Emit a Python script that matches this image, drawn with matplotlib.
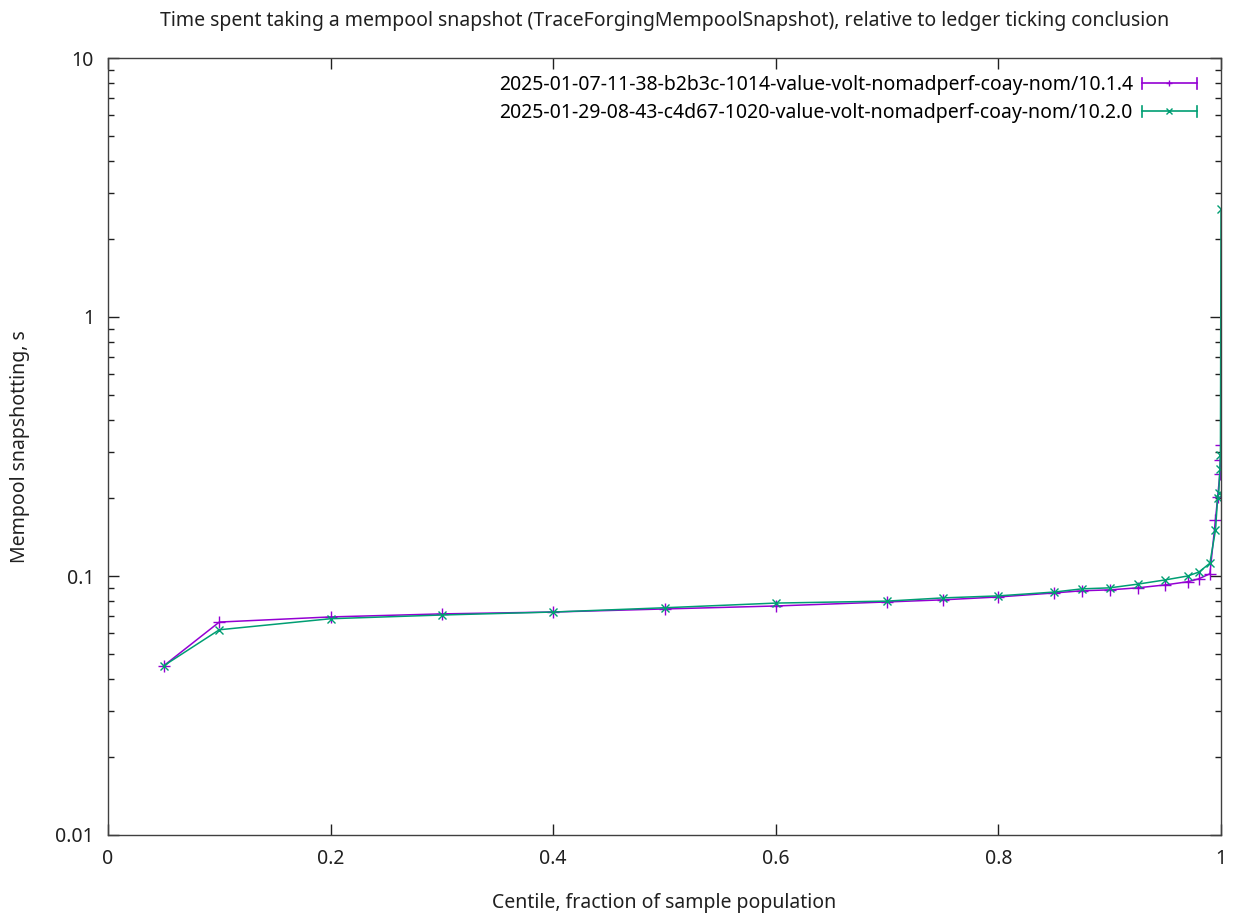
import numpy as np
import matplotlib
matplotlib.use("Agg")
import matplotlib.pyplot as plt
from matplotlib.lines import Line2D
from matplotlib.legend_handler import HandlerBase
from matplotlib.ticker import LogLocator, FixedLocator, NullFormatter

plt.rcParams['font.family'] = ['Noto Sans', 'DejaVu Sans']

# centiles and measured times (s)
centiles_a = [0.05, 0.1, 0.2, 0.3, 0.4, 0.5, 0.6, 0.7, 0.75, 0.8, 0.85, 0.875,
              0.9, 0.925, 0.95, 0.97, 0.98, 0.99, 0.995, 0.997, 0.999, 0.9995, 1.0]
times_a = [0.045, 0.0664, 0.0695, 0.0714, 0.0726, 0.0746, 0.0766, 0.0794, 0.0809,
           0.083, 0.086, 0.0877, 0.0884, 0.090, 0.0924, 0.095, 0.0975, 0.102,
           0.164, 0.202, 0.248, 0.28, 0.32]

centiles_b = [0.05, 0.1, 0.2, 0.3, 0.4, 0.5, 0.6, 0.7, 0.75, 0.8, 0.85, 0.875,
              0.9, 0.925, 0.95, 0.97, 0.98, 0.99, 0.995, 0.997, 0.998, 0.999,
              0.9995, 1.0]
times_b = [0.045, 0.062, 0.0684, 0.0707, 0.0726, 0.0754, 0.0786, 0.080, 0.0823,
           0.0838, 0.0867, 0.0892, 0.090, 0.093, 0.0966, 0.100, 0.1035, 0.112,
           0.150, 0.200, 0.210, 0.260, 0.293, 2.61]

label_a = "2025-01-07-11-38-b2b3c-1014-value-volt-nomadperf-coay-nom/10.1.4"
label_b = "2025-01-29-08-43-c4d67-1020-value-volt-nomadperf-coay-nom/10.2.0"
color_a = "#9400d3"
color_b = "#009e73"
fs = 14


# gnuplot style key: line with end caps and the point in the middle
class ErrKeyHandler(HandlerBase):
    def create_artists(self, legend, orig, xd, yd, width, height, fontsize, trans):
        y = height / 2 - yd
        c = orig.get_color()
        line = Line2D([-xd, width - xd], [y, y], color=c, lw=1.2)
        mk = Line2D([width / 2 - xd], [y], color=c, marker=orig.get_marker(),
                    markersize=5, mew=1.0, linestyle="none")
        caps = []
        for xx in (-xd, width - xd):
            caps.append(Line2D([xx, xx], [y - 4, y + 4], color=c, lw=1.2))
        for a in [line, mk] + caps:
            a.set_transform(trans)
        return [line, mk] + caps


fig = plt.figure(figsize=(12.35, 9.15), dpi=100)
ax = fig.add_axes([108 / 1235, 1 - 835 / 915, (1221 - 108) / 1235, (835 - 58) / 915])

ax.plot(centiles_a, times_a, color=color_a, lw=1.1, marker="+", markersize=8,
        mew=1.0, label=label_a)
ax.plot(centiles_b, times_b, color=color_b, lw=1.1, marker="x", markersize=6,
        mew=1.0, label=label_b)

ax.set_yscale("log")
ax.set_xlim(0, 1)
ax.set_ylim(0.01, 10)
ax.set_xticks([0, 0.2, 0.4, 0.6, 0.8, 1.0])
ax.set_xticklabels(["0", "0.2", "0.4", "0.6", "0.8", "1"])
ax.yaxis.set_major_locator(FixedLocator([0.01, 0.1, 1, 10]))
ax.set_yticklabels(["0.01", "0.1", "1", "10"])
ax.yaxis.set_minor_locator(LogLocator(base=10, subs=np.arange(2, 10)))
ax.yaxis.set_minor_formatter(NullFormatter())

ax.tick_params(which="both", direction="in", top=True, right=True,
               labelsize=fs, colors="#202020")
ax.tick_params(which="major", length=8, width=1.0, pad=10)
ax.tick_params(which="minor", length=4, width=1.0)
for s in ax.spines.values():
    s.set_color("#404040")
    s.set_linewidth(1.0)

fig.text(664.5 / 1235, 1 - 21 / 915,
         "Time spent taking a mempool snapshot (TraceForgingMempoolSnapshot), relative to ledger ticking conclusion",
         fontsize=fs, ha="center", va="center", color="#202020")
ax.set_xlabel("Centile, fraction of sample population", fontsize=fs, color="#202020")
ax.xaxis.set_label_coords(0.5, -(903 - 835) / 777)
ax.xaxis.label.set_va("center")
ax.set_ylabel("Mempool snapshotting, s", fontsize=fs, color="#202020")
ax.yaxis.set_label_coords(-(108 - 20) / 1113, 0.5)
ax.yaxis.label.set_va("center")

ax.legend(loc="upper right", frameon=False, markerfirst=False, fontsize=fs,
          handlelength=2.85, handletextpad=0.45, labelspacing=0.42,
          borderaxespad=0.0, bbox_to_anchor=((1201 - 108) / 1113, 1 - 13 / 777),
          borderpad=0.2, handler_map={Line2D: ErrKeyHandler()})

fig.savefig("out.png", dpi=100, facecolor="white")
